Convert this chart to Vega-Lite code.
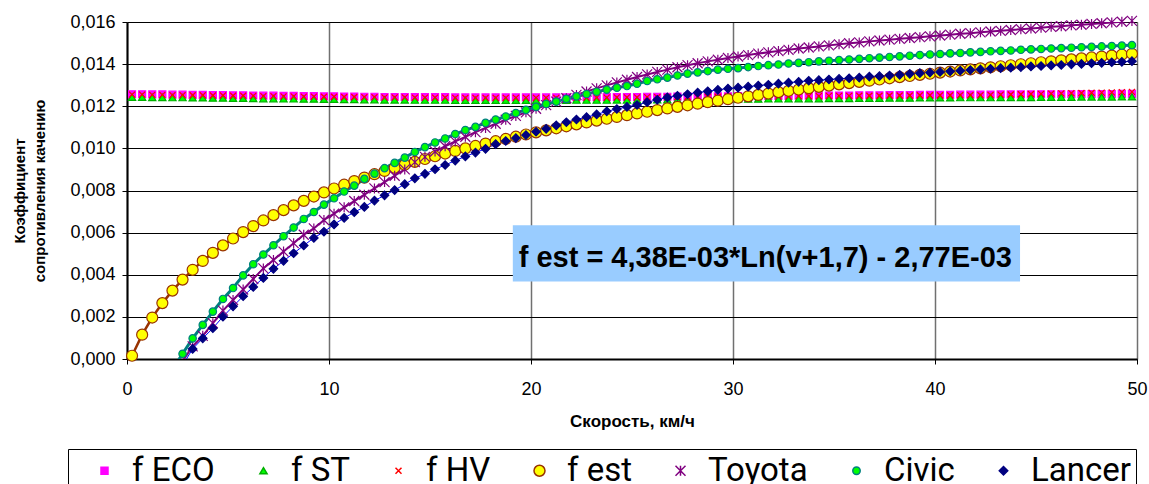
{
"$schema": "https://vega.github.io/schema/vega-lite/v6.json",
"width": 1010, "height": 337,
"autosize": {"type": "none"},
"padding": {"left": 127, "top": 22, "right": 12, "bottom": 125},
"background": "#ffffff",
"config": {"view": {"stroke": null}, "font": "Liberation Sans",
  "axis": {"labelColor": "#000", "titleColor": "#000", "domainColor": "#000", "tickColor": "#000", "labelFont": "Liberation Sans", "titleFont": "Liberation Sans"},
  "legend": {"orient": "none", "legendX": -59, "legendY": 427, "direction": "horizontal",
    "titleOrient": "left", "titleFontSize": 2, "titlePadding": 15,
    "padding": 5, "strokeColor": "#000000",
    "labelFont": "Roboto", "labelFontSize": 33, "labelColor": "#000000", "labelOffset": 11,
    "columnPadding": 32}},
"datasets": {"d": [
{"v":0.25,"f ECO":0.01257,"f ST":0.01243,"f HV":0.01255,"f est":0.000155},
{"v":0.75,"f ECO":0.01257,"f ST":0.01243,"f HV":0.01255,"f est":0.001155},
{"v":1.25,"f ECO":0.01256,"f ST":0.01242,"f HV":0.01254,"f est":0.001968},
{"v":1.75,"f ECO":0.01256,"f ST":0.01242,"f HV":0.01254,"f est":0.002654},
{"v":2.25,"f ECO":0.01255,"f ST":0.01241,"f HV":0.01253,"f est":0.003247,"Toyota":-0.0008,"Civic":-0.0005},
{"v":2.75,"f ECO":0.01255,"f ST":0.01241,"f HV":0.01253,"f est":0.003769,"Toyota":-0.0001,"Civic":0.00025,"Lancer":-0.0003},
{"v":3.25,"f ECO":0.01254,"f ST":0.0124,"f HV":0.01252,"f est":0.004235,"Toyota":0.0006,"Civic":0.00098,"Lancer":0.00048},
{"v":3.75,"f ECO":0.01254,"f ST":0.0124,"f HV":0.01252,"f est":0.004657,"Toyota":0.0011,"Civic":0.00162,"Lancer":0.00098},
{"v":4.25,"f ECO":0.01253,"f ST":0.01239,"f HV":0.01251,"f est":0.005041,"Toyota":0.0017,"Civic":0.00225,"Lancer":0.00146},
{"v":4.75,"f ECO":0.01253,"f ST":0.01239,"f HV":0.01251,"f est":0.005395,"Toyota":0.0023,"Civic":0.00285,"Lancer":0.00201},
{"v":5.25,"f ECO":0.01252,"f ST":0.01238,"f HV":0.0125,"f est":0.005722,"Toyota":0.0028,"Civic":0.00337,"Lancer":0.0025},
{"v":5.75,"f ECO":0.01252,"f ST":0.01238,"f HV":0.0125,"f est":0.006026,"Toyota":0.0033,"Civic":0.00397,"Lancer":0.00298},
{"v":6.25,"f ECO":0.01251,"f ST":0.01237,"f HV":0.01249,"f est":0.006311,"Toyota":0.0038,"Civic":0.0045,"Lancer":0.00342},
{"v":6.75,"f ECO":0.0125,"f ST":0.01236,"f HV":0.01248,"f est":0.006578,"Toyota":0.0043,"Civic":0.00496,"Lancer":0.00385},
{"v":7.25,"f ECO":0.0125,"f ST":0.01236,"f HV":0.01248,"f est":0.00683,"Toyota":0.0047,"Civic":0.0054,"Lancer":0.00428},
{"v":7.75,"f ECO":0.01249,"f ST":0.01235,"f HV":0.01247,"f est":0.007067,"Toyota":0.0051,"Civic":0.00583,"Lancer":0.00466},
{"v":8.25,"f ECO":0.01249,"f ST":0.01235,"f HV":0.01247,"f est":0.007293,"Toyota":0.0055,"Civic":0.00624,"Lancer":0.00502},
{"v":8.75,"f ECO":0.01248,"f ST":0.01234,"f HV":0.01246,"f est":0.007508,"Toyota":0.0059,"Civic":0.00665,"Lancer":0.00539},
{"v":9.25,"f ECO":0.01248,"f ST":0.01234,"f HV":0.01246,"f est":0.007713,"Toyota":0.0062,"Civic":0.00698,"Lancer":0.00575},
{"v":9.75,"f ECO":0.01247,"f ST":0.01233,"f HV":0.01245,"f est":0.007908,"Toyota":0.0066,"Civic":0.00733,"Lancer":0.00604},
{"v":10.25,"f ECO":0.01247,"f ST":0.01233,"f HV":0.01245,"f est":0.008095,"Toyota":0.0069,"Civic":0.00763,"Lancer":0.00639},
{"v":10.75,"f ECO":0.01246,"f ST":0.01232,"f HV":0.01244,"f est":0.008275,"Toyota":0.0072,"Civic":0.00795,"Lancer":0.0067},
{"v":11.25,"f ECO":0.01246,"f ST":0.01232,"f HV":0.01244,"f est":0.008448,"Toyota":0.0075,"Civic":0.00823,"Lancer":0.00697},
{"v":11.75,"f ECO":0.01245,"f ST":0.01231,"f HV":0.01243,"f est":0.008614,"Toyota":0.0078,"Civic":0.00855,"Lancer":0.00722},
{"v":12.25,"f ECO":0.01245,"f ST":0.01231,"f HV":0.01243,"f est":0.008773,"Toyota":0.0081,"Civic":0.0088,"Lancer":0.00752},
{"v":12.75,"f ECO":0.01244,"f ST":0.0123,"f HV":0.01242,"f est":0.008928,"Toyota":0.0084,"Civic":0.00906,"Lancer":0.00777},
{"v":13.25,"f ECO":0.01244,"f ST":0.0123,"f HV":0.01242,"f est":0.009077,"Toyota":0.0087,"Civic":0.00931,"Lancer":0.00802},
{"v":13.75,"f ECO":0.01244,"f ST":0.0123,"f HV":0.01242,"f est":0.009221,"Toyota":0.009,"Civic":0.00956,"Lancer":0.0083},
{"v":14.25,"f ECO":0.01243,"f ST":0.01229,"f HV":0.01241,"f est":0.00936,"Toyota":0.00935,"Civic":0.00983,"Lancer":0.00858},
{"v":14.75,"f ECO":0.01243,"f ST":0.01229,"f HV":0.01241,"f est":0.009496,"Toyota":0.0096,"Civic":0.01006,"Lancer":0.00879},
{"v":15.25,"f ECO":0.01243,"f ST":0.01229,"f HV":0.01241,"f est":0.009627,"Toyota":0.00985,"Civic":0.01028,"Lancer":0.00901},
{"v":15.75,"f ECO":0.01243,"f ST":0.01229,"f HV":0.01241,"f est":0.009754,"Toyota":0.0101,"Civic":0.01047,"Lancer":0.00921},
{"v":16.25,"f ECO":0.01242,"f ST":0.01228,"f HV":0.0124,"f est":0.009878,"Toyota":0.01033,"Civic":0.01068,"Lancer":0.00942},
{"v":16.75,"f ECO":0.01242,"f ST":0.01228,"f HV":0.0124,"f est":0.009998,"Toyota":0.01055,"Civic":0.01087,"Lancer":0.00962},
{"v":17.25,"f ECO":0.01242,"f ST":0.01228,"f HV":0.0124,"f est":0.010115,"Toyota":0.01077,"Civic":0.01102,"Lancer":0.0098},
{"v":17.75,"f ECO":0.01242,"f ST":0.01228,"f HV":0.0124,"f est":0.010229,"Toyota":0.01097,"Civic":0.01121,"Lancer":0.00998},
{"v":18.25,"f ECO":0.01242,"f ST":0.01228,"f HV":0.0124,"f est":0.01034,"Toyota":0.01117,"Civic":0.01137,"Lancer":0.0102},
{"v":18.75,"f ECO":0.01242,"f ST":0.01228,"f HV":0.0124,"f est":0.010448,"Toyota":0.01136,"Civic":0.01151,"Lancer":0.01035},
{"v":19.25,"f ECO":0.01242,"f ST":0.01228,"f HV":0.0124,"f est":0.010554,"Toyota":0.01154,"Civic":0.01168,"Lancer":0.01049},
{"v":19.75,"f ECO":0.01242,"f ST":0.01228,"f HV":0.0124,"f est":0.010658,"Toyota":0.01171,"Civic":0.01183,"Lancer":0.01063},
{"v":20.25,"f ECO":0.01242,"f ST":0.01228,"f HV":0.0124,"f est":0.010759,"Toyota":0.01188,"Civic":0.01197,"Lancer":0.01079},
{"v":20.75,"f ECO":0.01242,"f ST":0.01228,"f HV":0.0124,"f est":0.010857,"Toyota":0.01205,"Civic":0.01211,"Lancer":0.01093},
{"v":21.25,"f ECO":0.01242,"f ST":0.01228,"f HV":0.0124,"f est":0.010954,"Toyota":0.01222,"Civic":0.01222,"Lancer":0.01109},
{"v":21.75,"f ECO":0.01242,"f ST":0.01228,"f HV":0.0124,"f est":0.011048,"Toyota":0.01238,"Civic":0.01235,"Lancer":0.01124},
{"v":22.25,"f ECO":0.01243,"f ST":0.01229,"f HV":0.01241,"f est":0.01114,"Toyota":0.01254,"Civic":0.01247,"Lancer":0.01137},
{"v":22.75,"f ECO":0.01243,"f ST":0.01229,"f HV":0.01241,"f est":0.011231,"Toyota":0.0127,"Civic":0.01258,"Lancer":0.01148},
{"v":23.25,"f ECO":0.01243,"f ST":0.01229,"f HV":0.01241,"f est":0.01132,"Toyota":0.01285,"Civic":0.01269,"Lancer":0.01161},
{"v":23.75,"f ECO":0.01243,"f ST":0.01229,"f HV":0.01241,"f est":0.011407,"Toyota":0.01299,"Civic":0.01279,"Lancer":0.01176},
{"v":24.25,"f ECO":0.01244,"f ST":0.0123,"f HV":0.01242,"f est":0.011492,"Toyota":0.01313,"Civic":0.01288,"Lancer":0.01187},
{"v":24.75,"f ECO":0.01244,"f ST":0.0123,"f HV":0.01242,"f est":0.011576,"Toyota":0.01326,"Civic":0.01296,"Lancer":0.01197},
{"v":25.25,"f ECO":0.01244,"f ST":0.0123,"f HV":0.01242,"f est":0.011658,"Toyota":0.01339,"Civic":0.01307,"Lancer":0.01206},
{"v":25.75,"f ECO":0.01245,"f ST":0.01231,"f HV":0.01243,"f est":0.011738,"Toyota":0.01351,"Civic":0.0132,"Lancer":0.01219},
{"v":26.25,"f ECO":0.01245,"f ST":0.01231,"f HV":0.01243,"f est":0.011818,"Toyota":0.01363,"Civic":0.01328,"Lancer":0.01231},
{"v":26.75,"f ECO":0.01245,"f ST":0.01231,"f HV":0.01243,"f est":0.011895,"Toyota":0.01374,"Civic":0.01336,"Lancer":0.01242},
{"v":27.25,"f ECO":0.01246,"f ST":0.01232,"f HV":0.01244,"f est":0.011971,"Toyota":0.01385,"Civic":0.01346,"Lancer":0.0125},
{"v":27.75,"f ECO":0.01246,"f ST":0.01232,"f HV":0.01244,"f est":0.012046,"Toyota":0.01395,"Civic":0.01355,"Lancer":0.01257},
{"v":28.25,"f ECO":0.01246,"f ST":0.01232,"f HV":0.01244,"f est":0.01212,"Toyota":0.01404,"Civic":0.01361,"Lancer":0.01265},
{"v":28.75,"f ECO":0.01247,"f ST":0.01233,"f HV":0.01245,"f est":0.012193,"Toyota":0.01413,"Civic":0.01367,"Lancer":0.01271},
{"v":29.25,"f ECO":0.01247,"f ST":0.01233,"f HV":0.01245,"f est":0.012264,"Toyota":0.01421,"Civic":0.01374,"Lancer":0.01278},
{"v":29.75,"f ECO":0.01247,"f ST":0.01233,"f HV":0.01245,"f est":0.012334,"Toyota":0.01429,"Civic":0.01378,"Lancer":0.01284},
{"v":30.25,"f ECO":0.01248,"f ST":0.01234,"f HV":0.01246,"f est":0.012403,"Toyota":0.01436,"Civic":0.01381,"Lancer":0.01288},
{"v":30.75,"f ECO":0.01248,"f ST":0.01234,"f HV":0.01246,"f est":0.012471,"Toyota":0.01443,"Civic":0.01386,"Lancer":0.01293},
{"v":31.25,"f ECO":0.01248,"f ST":0.01234,"f HV":0.01246,"f est":0.012538,"Toyota":0.0145,"Civic":0.01391,"Lancer":0.01298},
{"v":31.75,"f ECO":0.01249,"f ST":0.01235,"f HV":0.01247,"f est":0.012604,"Toyota":0.01456,"Civic":0.01395,"Lancer":0.01302},
{"v":32.25,"f ECO":0.01249,"f ST":0.01235,"f HV":0.01247,"f est":0.012669,"Toyota":0.01462,"Civic":0.01398,"Lancer":0.01307},
{"v":32.75,"f ECO":0.01249,"f ST":0.01235,"f HV":0.01247,"f est":0.012733,"Toyota":0.01468,"Civic":0.01403,"Lancer":0.01312},
{"v":33.25,"f ECO":0.0125,"f ST":0.01236,"f HV":0.01248,"f est":0.012796,"Toyota":0.01474,"Civic":0.01406,"Lancer":0.01316},
{"v":33.75,"f ECO":0.0125,"f ST":0.01236,"f HV":0.01248,"f est":0.012858,"Toyota":0.01479,"Civic":0.01409,"Lancer":0.01321},
{"v":34.25,"f ECO":0.0125,"f ST":0.01236,"f HV":0.01248,"f est":0.01292,"Toyota":0.01484,"Civic":0.01413,"Lancer":0.01324},
{"v":34.75,"f ECO":0.01251,"f ST":0.01237,"f HV":0.01249,"f est":0.01298,"Toyota":0.01489,"Civic":0.01416,"Lancer":0.01327},
{"v":35.25,"f ECO":0.01251,"f ST":0.01237,"f HV":0.01249,"f est":0.01304,"Toyota":0.01494,"Civic":0.01419,"Lancer":0.0133},
{"v":35.75,"f ECO":0.01251,"f ST":0.01237,"f HV":0.01249,"f est":0.013099,"Toyota":0.01499,"Civic":0.01422,"Lancer":0.01333},
{"v":36.25,"f ECO":0.01252,"f ST":0.01238,"f HV":0.0125,"f est":0.013157,"Toyota":0.01503,"Civic":0.01425,"Lancer":0.01336},
{"v":36.75,"f ECO":0.01252,"f ST":0.01238,"f HV":0.0125,"f est":0.013214,"Toyota":0.01508,"Civic":0.01428,"Lancer":0.01341},
{"v":37.25,"f ECO":0.01252,"f ST":0.01238,"f HV":0.0125,"f est":0.013271,"Toyota":0.01512,"Civic":0.01431,"Lancer":0.01343},
{"v":37.75,"f ECO":0.01253,"f ST":0.01239,"f HV":0.01251,"f est":0.013327,"Toyota":0.01516,"Civic":0.01434,"Lancer":0.01346},
{"v":38.25,"f ECO":0.01253,"f ST":0.01239,"f HV":0.01251,"f est":0.013382,"Toyota":0.0152,"Civic":0.01437,"Lancer":0.01349},
{"v":38.75,"f ECO":0.01253,"f ST":0.01239,"f HV":0.01251,"f est":0.013436,"Toyota":0.01524,"Civic":0.0144,"Lancer":0.01354},
{"v":39.25,"f ECO":0.01254,"f ST":0.0124,"f HV":0.01252,"f est":0.01349,"Toyota":0.01528,"Civic":0.01443,"Lancer":0.01357},
{"v":39.75,"f ECO":0.01254,"f ST":0.0124,"f HV":0.01252,"f est":0.013543,"Toyota":0.01532,"Civic":0.01446,"Lancer":0.0136},
{"v":40.25,"f ECO":0.01254,"f ST":0.0124,"f HV":0.01252,"f est":0.013596,"Toyota":0.01536,"Civic":0.01448,"Lancer":0.01363},
{"v":40.75,"f ECO":0.01254,"f ST":0.0124,"f HV":0.01252,"f est":0.013648,"Toyota":0.0154,"Civic":0.01451,"Lancer":0.01366},
{"v":41.25,"f ECO":0.01255,"f ST":0.01241,"f HV":0.01253,"f est":0.013699,"Toyota":0.01544,"Civic":0.01453,"Lancer":0.01369},
{"v":41.75,"f ECO":0.01255,"f ST":0.01241,"f HV":0.01253,"f est":0.01375,"Toyota":0.01547,"Civic":0.01456,"Lancer":0.01372},
{"v":42.25,"f ECO":0.01255,"f ST":0.01241,"f HV":0.01253,"f est":0.0138,"Toyota":0.01551,"Civic":0.01458,"Lancer":0.01375},
{"v":42.75,"f ECO":0.01255,"f ST":0.01241,"f HV":0.01254,"f est":0.013849,"Toyota":0.01555,"Civic":0.01461,"Lancer":0.01378},
{"v":43.25,"f ECO":0.01256,"f ST":0.01242,"f HV":0.01255,"f est":0.013898,"Toyota":0.01558,"Civic":0.01463,"Lancer":0.01381},
{"v":43.75,"f ECO":0.01256,"f ST":0.01242,"f HV":0.01256,"f est":0.013947,"Toyota":0.01562,"Civic":0.01465,"Lancer":0.01383},
{"v":44.25,"f ECO":0.01256,"f ST":0.01242,"f HV":0.01257,"f est":0.013994,"Toyota":0.01566,"Civic":0.01468,"Lancer":0.01386},
{"v":44.75,"f ECO":0.01256,"f ST":0.01242,"f HV":0.01258,"f est":0.014042,"Toyota":0.01569,"Civic":0.0147,"Lancer":0.01389},
{"v":45.25,"f ECO":0.01257,"f ST":0.01243,"f HV":0.01259,"f est":0.014089,"Toyota":0.01573,"Civic":0.01472,"Lancer":0.01391},
{"v":45.75,"f ECO":0.01257,"f ST":0.01243,"f HV":0.0126,"f est":0.014135,"Toyota":0.01577,"Civic":0.01474,"Lancer":0.01394},
{"v":46.25,"f ECO":0.01257,"f ST":0.01243,"f HV":0.01261,"f est":0.014181,"Toyota":0.0158,"Civic":0.01476,"Lancer":0.01396},
{"v":46.75,"f ECO":0.01257,"f ST":0.01243,"f HV":0.01262,"f est":0.014227,"Toyota":0.01584,"Civic":0.01478,"Lancer":0.01399},
{"v":47.25,"f ECO":0.01258,"f ST":0.01244,"f HV":0.01263,"f est":0.014272,"Toyota":0.01587,"Civic":0.0148,"Lancer":0.01401},
{"v":47.75,"f ECO":0.01258,"f ST":0.01244,"f HV":0.01264,"f est":0.014316,"Toyota":0.01591,"Civic":0.01482,"Lancer":0.01404},
{"v":48.25,"f ECO":0.01258,"f ST":0.01244,"f HV":0.01265,"f est":0.01436,"Toyota":0.01594,"Civic":0.01484,"Lancer":0.01406},
{"v":48.75,"f ECO":0.01258,"f ST":0.01244,"f HV":0.01266,"f est":0.014404,"Toyota":0.01598,"Civic":0.01486,"Lancer":0.01409},
{"v":49.25,"f ECO":0.01259,"f ST":0.01245,"f HV":0.01267,"f est":0.014447,"Toyota":0.01601,"Civic":0.01488,"Lancer":0.01411},
{"v":49.75,"f ECO":0.01259,"f ST":0.01245,"f HV":0.01268,"f est":0.01449,"Toyota":0.01605,"Civic":0.0149,"Lancer":0.01414}
]},
"data": {"name": "d"},
"layer": [
  {"data": {"values": [{}]}, "mark": {"type": "rect", "fill": "#99CCFF"},
   "encoding": {"x": {"datum": 19.1, "type": "quantitative"}, "x2": {"datum": 44.21}, "y": {"datum": 0.00368, "type": "quantitative"}, "y2": {"datum": 0.00635}}},
  {"data": {"values": [{}]}, "mark": {"type": "text", "fontSize": 29, "fontWeight": "bold", "font": "Liberation Sans", "color": "#000000", "align": "center", "baseline": "alphabetic"},
   "encoding": {"x": {"datum": 31.6, "type": "quantitative"}, "y": {"datum": 0.00438, "type": "quantitative"}, "text": {"value": "f est = 4,38E-03*Ln(v+1,7) - 2,77E-03"}}},
  {"transform": [{"fold": ["f est", "Toyota", "Civic", "Lancer"], "as": ["series", "val"]}, {"filter": "isValid(datum.val)"}],
   "mark": {"type": "line", "clip": true},
   "encoding": {
     "x": {"field": "v", "type": "quantitative", "scale": {"domain": [0, 50], "nice": false, "zero": false},
       "axis": {"values": [0, 10, 20, 30, 40, 50], "title": "Скорость, км/ч", "titleFontSize": 17, "titleFontWeight": "bold", "titlePadding": 15,
         "labelFontSize": 18, "labelPadding": 16, "tickSize": 5, "grid": true, "gridColor": "#707070", "gridWidth": 1.5,
         "domainWidth": 2, "labelFlush": false, "labelOverlap": false}},
     "y": {"field": "val", "type": "quantitative", "scale": {"domain": [0, 0.016], "nice": false},
       "axis": {"values": [0, 0.002, 0.004, 0.006, 0.008, 0.01, 0.012, 0.014, 0.016],
         "labelExpr": "replace(format(datum.value, '.3f'), '.', ',')",
         "title": ["Коэффициент", "сопротивления качению"], "titleFontSize": 15, "titleFontWeight": "bold", "titlePadding": 22, "titleLineHeight": 20,
         "labelFontSize": 18, "labelPadding": 7, "tickSize": 5, "grid": true, "gridColor": "#000000", "gridWidth": 1,
         "domainWidth": 2, "labelFlush": false, "labelOverlap": false}},
     "color": {"field": "series", "type": "nominal", "scale": {"domain": ["f est", "Toyota", "Civic", "Lancer"], "range": ["#993300", "#800080", "#008080", "#0000FF"]}, "legend": null},
     "strokeWidth": {"field": "series", "type": "nominal", "scale": {"type": "ordinal", "domain": ["f est", "Toyota", "Civic", "Lancer"], "range": [2.5, 2, 3, 1]}, "legend": null}
   }},
  {"encoding": {
     "x": {"field": "v", "type": "quantitative"},
     "y": {"field": "val", "type": "quantitative"},
     "shape": {"field": "series", "type": "nominal",
       "scale": {"domain": ["f ECO", "f ST", "f HV", "f est", "Toyota", "Civic", "Lancer"],
                 "range": ["square", "triangle-up", "M-1,-1L1,1M-1,1L1,-1", "circle", "M-1,-1L1,1M-1,1L1,-1M0,-1L0,1", "circle", "diamond"]},
       "legend": {"title": " "}},
     "fill": {"field": "series", "type": "nominal",
       "scale": {"domain": ["f ECO", "f ST", "f HV", "f est", "Toyota", "Civic", "Lancer"],
                 "range": ["#FF00FF", "#00FF00", "#FF0000", "#FFFF00", "#800080", "#00FF00", "#000080"]},
       "legend": {"title": " "}},
     "stroke": {"field": "series", "type": "nominal",
       "scale": {"domain": ["f ECO", "f ST", "f HV", "f est", "Toyota", "Civic", "Lancer"],
                 "range": ["#FF00FF", "#00B000", "#FF0000", "#993300", "#800080", "#008080", "#000080"]},
       "legend": {"title": " "}},
     "size": {"field": "series", "type": "nominal",
       "scale": {"type": "ordinal", "domain": ["f ECO", "f ST", "f HV", "f est", "Toyota", "Civic", "Lancer"],
                 "range": [49, 52, 36, 121, 100, 55, 72]},
       "legend": {"title": " "}}
   },
   "layer": [
     {"transform": [{"fold": ["f ECO"], "as": ["series", "val"]}, {"filter": "datum.val >= 0"}], "mark": {"type": "point", "filled": true, "opacity": 1, "strokeWidth": 1.2}},
     {"transform": [{"fold": ["f ST"], "as": ["series", "val"]}, {"filter": "datum.val >= 0"}], "mark": {"type": "point", "filled": true, "opacity": 1, "strokeWidth": 1.2}},
     {"transform": [{"fold": ["f HV"], "as": ["series", "val"]}, {"filter": "datum.val >= 0"}], "mark": {"type": "point", "filled": true, "opacity": 1, "strokeWidth": 1.2}},
     {"transform": [{"fold": ["f est"], "as": ["series", "val"]}, {"filter": "datum.val >= 0"}], "mark": {"type": "point", "filled": true, "opacity": 1, "strokeWidth": 1.2}},
     {"transform": [{"fold": ["Toyota"], "as": ["series", "val"]}, {"filter": "datum.val >= 0"}], "mark": {"type": "point", "filled": true, "opacity": 1, "strokeWidth": 1.2}},
     {"transform": [{"fold": ["Civic"], "as": ["series", "val"]}, {"filter": "datum.val >= 0"}], "mark": {"type": "point", "filled": true, "opacity": 1, "strokeWidth": 1.2}},
     {"transform": [{"fold": ["Lancer"], "as": ["series", "val"]}, {"filter": "datum.val >= 0"}], "mark": {"type": "point", "filled": true, "opacity": 1, "strokeWidth": 1.2}}
   ]}
]
}
